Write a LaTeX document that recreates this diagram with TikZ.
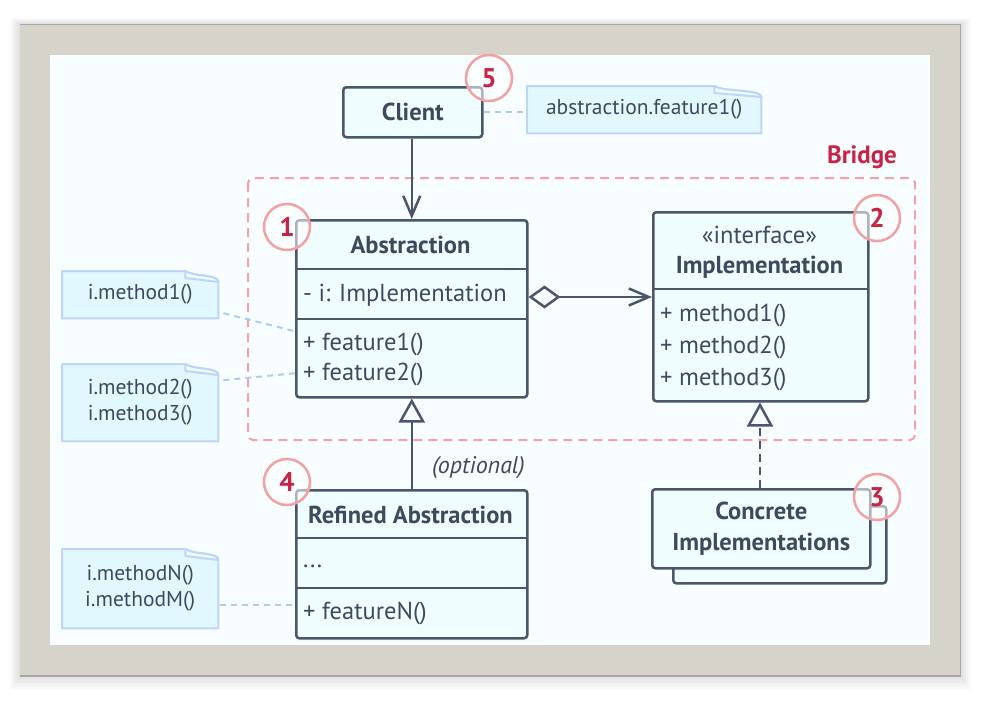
\documentclass[tikz,border=0pt]{standalone}
\usepackage{fontspec}
\setmainfont{PT Sans}
\usetikzlibrary{arrows.meta}
\definecolor{framecol}{RGB}{214,211,203}
\definecolor{frameedge}{RGB}{170,167,160}
\definecolor{innercol}{RGB}{248,254,255}
\definecolor{boxfill}{RGB}{240,253,255}
\definecolor{boxline}{RGB}{74,86,106}
\definecolor{txt}{RGB}{62,74,92}
\definecolor{notefill}{RGB}{226,248,255}
\definecolor{noteline}{RGB}{190,214,245}
\definecolor{notelinkcol}{RGB}{170,205,240}
\definecolor{bridgecol}{RGB}{248,160,168}
\definecolor{crimson}{RGB}{200,34,68}
\definecolor{circline}{RGB}{245,160,160}
\pgfdeclarelayer{bglayer}
\pgfdeclarelayer{notelayer}
\pgfsetlayers{bglayer,notelayer,main}
\tikzset{
  classbox/.style={draw=boxline, fill=boxfill, line width=2.5pt, rounded corners=3pt, anchor=north west, inner sep=0pt},
  divider/.style={draw=boxline, line width=2.5pt},
  titletext/.style={font=\bfseries\fontsize{24.5}{28}\selectfont, text=txt, inner sep=0pt},
  membertext/.style={font=\fontsize{24.5}{28}\selectfont, text=txt, anchor=west, inner sep=0pt},
  notenode/.style={anchor=north west, inner sep=0pt, font=\fontsize{21.5}{26}\selectfont, text=txt, align=center},
  noteshape/.style={draw=noteline, fill=notefill, line width=2pt, line join=round},
  notelink/.style={draw=notelinkcol, line width=2pt, dash pattern=on 6pt off 5pt},
  numcirc/.style={circle, draw=circline, line width=2.5pt, fill=white, fill opacity=0.55, text opacity=1, minimum size=46pt, inner sep=0pt, font=\bfseries\fontsize{27}{28}\selectfont, text=crimson},
  assoc/.style={draw=boxline, line width=2.5pt, -{Straight Barb[length=20pt, width=17pt]}},
  aggreg/.style={draw=boxline, line width=2.5pt, {Diamond[length=32pt, width=23pt, fill=innercol]}-{Straight Barb[length=20pt, width=17pt]}},
  inherit/.style={draw=boxline, line width=2.5pt, -{Triangle[length=24pt, width=26pt, fill=innercol]}},
  realize/.style={inherit, dash pattern=on 8pt off 5pt},
}
\begin{document}
\begin{tikzpicture}[x=1pt,y=-1pt]
\useasboundingbox (0,0) rectangle (982,701);
\begin{pgfonlayer}{bglayer}
  \fill[white] (0,0) rectangle (982,701);
  \foreach \s in {1,...,10} {
    \fill[black, opacity=0.01] ({20-\s},{24-\s*0.6}) rectangle ({961+\s},{676+\s*1.4});
  }
  \fill[framecol] (20,24) rectangle (961,676);
  \draw[frameedge, line width=1pt] (20,24.5) -- (961,24.5);
  \draw[frameedge, line width=1.2pt] (960.5,24) -- (960.5,676) -- (20,676);
  \fill[innercol] (50,55) rectangle (930,645);
\end{pgfonlayer}

% Bridge region
\draw[bridgecol, line width=2pt, dash pattern=on 9pt off 6pt, rounded corners=5pt] (248,178) rectangle (915,440);
\node[font=\bfseries\fontsize{25}{28}\selectfont, text=crimson, inner sep=0pt] (bridgelbl) at (862,157) {Bridge};

% Client
\node[classbox, minimum width=139pt, minimum height=50pt] (client) at (342,86) {};
\node[titletext] (clientT) at (client.center) {Client};

% Abstraction
\node[classbox, minimum width=231pt, minimum height=177pt] (abs) at (295,219) {};
\draw[divider] (295,269) -- (526,269);
\draw[divider] (295,319) -- (526,319);
\node[titletext] (absT) at (410.5,245) {Abstraction};
\node[membertext] (absF) at (303,295) {- i: Implementation};
\node[membertext] (absM1) at (303,344) {+ feature1()};
\node[membertext] (absM2) at (303,374) {+ feature2()};

% Implementation
\node[classbox, minimum width=215pt, minimum height=189pt] (impl) at (652,211) {};
\draw[divider] (652,289) -- (867,289);
\node[membertext, anchor=center] (implS) at (759.5,235) {«interface»};
\node[titletext] (implT) at (759.5,267) {Implementation};
\node[membertext] (implM1) at (660,315) {+ method1()};
\node[membertext] (implM2) at (660,347) {+ method2()};
\node[membertext] (implM3) at (660,379) {+ method3()};

% Refined Abstraction
\node[classbox, minimum width=231pt, minimum height=148pt] (refined) at (295,489) {};
\draw[divider] (295,538) -- (526,538);
\draw[divider] (295,588) -- (526,588);
\node[titletext] (refT) at (410.5,515) {Refined Abstraction};
\node[membertext] (refD) at (303,566) {...};
\node[membertext] (refM) at (303,613) {+ featureN()};

% Concrete Implementations
\node[classbox, minimum width=213pt, minimum height=77pt] (concback) at (672,505) {};
\node[classbox, minimum width=218pt, minimum height=79pt] (conc) at (651,488) {};
\node[titletext, align=center, font=\bfseries\fontsize{24.5}{31}\selectfont] (concT) at (conc.center) {Concrete\\Implementations};

% Notes
\node[notenode, minimum width=234pt, minimum height=47pt] (cnote) at (527,86) {abstraction.feature1()};
\node[notenode, minimum width=156pt, minimum height=47pt] (n1) at (62,271) {i.method1()};
\node[notenode, minimum width=156pt, minimum height=77pt] (n2) at (62,364) {i.method2()\\i.method3()};
\node[notenode, minimum width=156pt, minimum height=79pt] (nN) at (62,549) {i.methodN()\\i.methodM()};
\begin{pgfonlayer}{notelayer}
  \foreach \n/\f in {cnote/47, n1/33, n2/33, nN/33} {
    \draw[noteshape] (\n.north west) -- ([xshift=-\f pt]\n.north east)
      .. controls ([xshift=-\f pt+8pt, yshift=-6pt]\n.north east) and ([yshift=-3pt]\n.north east) .. ([yshift=-11pt]\n.north east)
      -- (\n.south east) -- (\n.south west) -- cycle;
    \draw[noteshape, fill=notefill!60!white] ([xshift=-\f pt]\n.north east) -- ([xshift=-\f pt, yshift=-7pt]\n.north east) -- ([yshift=-11pt]\n.north east)
      .. controls ([yshift=-3pt]\n.north east) and ([xshift=-\f pt+8pt, yshift=-6pt]\n.north east) .. ([xshift=-\f pt]\n.north east);
  }
\end{pgfonlayer}

% Note links
\draw[notelink] (client.east) -- (client.east -| cnote.west);
\draw[notelink] ([xshift=5pt, yshift=-18.5pt]n1.east) -- ([yshift=-22.5pt]abs.west);
\draw[notelink] ([xshift=5pt, yshift=22.5pt]n2.east) -- ([yshift=-64.5pt]abs.west);
\path ([xshift=2pt, yshift=-16pt]nN.east) coordinate (lnA);
\draw[notelink] (lnA) -- (lnA -| refined.west);

% Relations
\draw[assoc] (client.south -| abs.north) -- (abs.north);
\path (abs.east |- 0,297) coordinate (aggA);
\draw[aggreg] (aggA) -- (aggA -| impl.west);
\draw[inherit] (refined.north) -- (abs.south);
\draw[realize] (conc.north -| 760,0) -- (impl.south -| 760,0);
\node[font=\itshape\fontsize{24}{28}\selectfont, text=txt, inner sep=0pt, anchor=east] (optl) at (525,468) {(optional)};

% Number badges
\node[numcirc] (c1) at (287,227) {1};
\node[numcirc] (c2) at (877,218) {2};
\node[numcirc] (c3) at (877,497) {3};
\node[numcirc] (c4) at (287,482) {4};
\node[numcirc] (c5) at (489,78) {5};
\end{tikzpicture}
\end{document}
